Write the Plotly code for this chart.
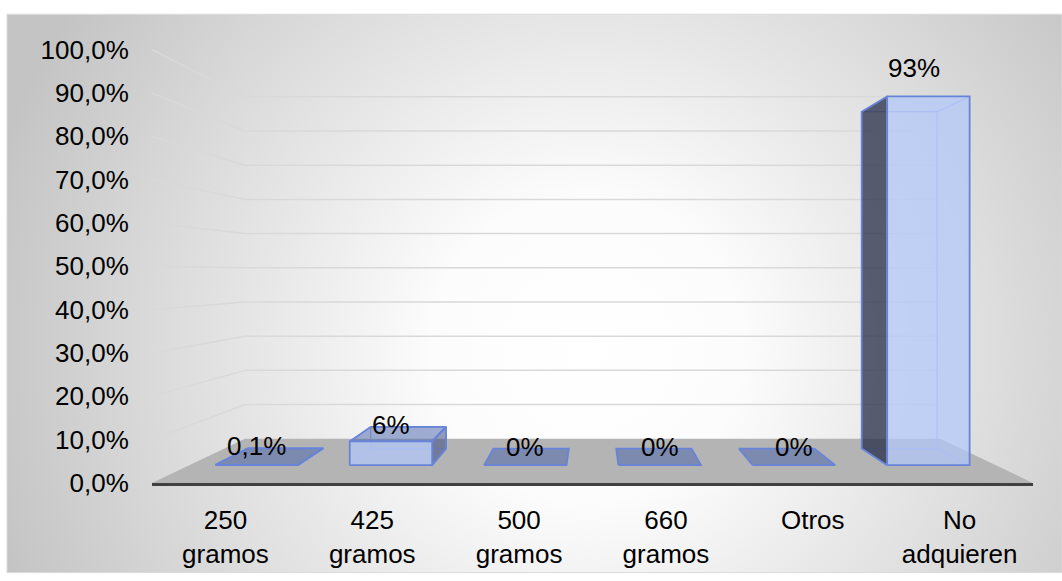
import base64
import plotly.graph_objects as go

# ---- data -------------------------------------------------------------
categories = ["250<br>gramos", "425<br>gramos", "500<br>gramos",
              "660<br>gramos", "Otros", "No<br>adquieren"]
shares = [0.1, 6, 0, 0, 0, 93]          # % of respondents
y_ticks = [0, 10, 20, 30, 40, 50, 60, 70, 80, 90, 100]
y_tick_text = [f"{t:.1f}%".replace(".", ",") for t in y_ticks]

# ---- pseudo-3D projection (data units) ---------------------------------
VPX, VPY = 2.5, 48.4          # vanishing point (category units, %)
WALL_DEPTH = 0.211            # depth of floor / side wall
BAR_FRONT, BAR_BACK = 0.085, 0.164
HALF_W = 0.307


def proj(c, v, f):
    """Move a front-plane point (c, v) a fraction f toward the vanishing point."""
    return c + f * (VPX - c), v + f * (VPY - v)


FONT = "Liberation Sans, Arial, sans-serif"
FS = 26

fig = go.Figure()


def polygon(pts, fill, line_color, width):
    xs = [p[0] for p in pts] + [pts[0][0]]
    ys = [p[1] for p in pts] + [pts[0][1]]
    fig.add_trace(go.Scatter(
        x=xs, y=ys, mode="lines", fill="toself", fillcolor=fill,
        line=dict(color=line_color, width=width),
        hoverinfo="skip", showlegend=False))


def segments(segs, color, width):
    xs, ys = [], []
    for a, b in segs:
        xs += [a[0], b[0], None]
        ys += [a[1], b[1], None]
    fig.add_trace(go.Scatter(
        x=xs, y=ys, mode="lines", line=dict(color=color, width=width),
        hoverinfo="skip", showlegend=False))


n = len(categories)
left, right = -0.5, n - 0.5

# floor
polygon([(left, 0), (right, 0), proj(right, 0, WALL_DEPTH), proj(left, 0, WALL_DEPTH)],
        "rgb(180,180,180)", "rgba(0,0,0,0)", 0)

# side-wall and back-wall gridlines
grid = []
for t in y_ticks[1:]:
    grid.append(((left, t), proj(left, t, WALL_DEPTH)))
    grid.append((proj(left, t, WALL_DEPTH), proj(right, t, WALL_DEPTH)))
segments(grid, "rgb(217,217,217)", 1.5)

EDGE = "rgb(104,132,216)"
HIDDEN = "rgba(150,172,240,0.9)"
FRONT_FILL = "rgba(178,198,250,0.72)"
TOP_FILL = "rgba(70,95,170,0.5)"
LEFT_FILL = "rgba(40,46,72,0.76)"
RIGHT_FILL = "rgba(60,75,130,0.55)"

labels = []
for i, v in enumerate(shares):
    x0, x1 = i - HALF_W, i + HALF_W
    fbl, fbr = proj(x0, 0, BAR_FRONT), proj(x1, 0, BAR_FRONT)
    ftl, ftr = proj(x0, v, BAR_FRONT), proj(x1, v, BAR_FRONT)
    bbl, bbr = proj(x0, 0, BAR_BACK), proj(x1, 0, BAR_BACK)
    btl, btr = proj(x0, v, BAR_BACK), proj(x1, v, BAR_BACK)

    # edges seen through the translucent faces
    if v > 0:
        segments([(bbl, bbr), (bbr, btr), (btr, btl), (btl, bbl),
                  (fbl, bbl), (fbr, bbr), (ftl, btl), (ftr, btr)], HIDDEN, 1.2)

    if v > 0 and x1 < VPX:
        polygon([fbr, bbr, btr, ftr], RIGHT_FILL, EDGE, 1.8)
    elif v > 0 and x0 > VPX:
        polygon([fbl, bbl, btl, ftl], LEFT_FILL, EDGE, 1.8)
    if v < VPY:
        polygon([ftl, ftr, btr, btl], TOP_FILL, EDGE, 1.8)
    if v > 0:
        polygon([fbl, fbr, ftr, ftl], FRONT_FILL, EDGE, 1.8)

    # value label sits on the visible top of the bar
    if v < VPY:
        lx, shift = proj(i, v, BAR_FRONT)[0], -15
    else:
        lx, shift = proj(i, v, (BAR_FRONT + BAR_BACK) / 2)[0], 11
    labels.append(dict(
        x=lx, y=max(ftl[1], btl[1]), xref="x", yref="y",
        text=f"{v:g}%".replace(".", ","), showarrow=False,
        xanchor="center", yanchor="bottom", yshift=shift,
        font=dict(family=FONT, size=FS, color="#000000")))

# ---- layout -------------------------------------------------------------
W, H = 1062, 581
ML, MR, MT, MB = 152, 29, 30, 91
plot_w, plot_h = W - ML - MR, H - MT - MB
y_top = 100 * plot_h / 440.0

# radial background of the chart area (pixel box 7..1062 x 14..581)
bx0, by0, bx1, by1 = 7, 14, 1062, 581
bw, bh = bx1 - bx0, by1 - by0
svg = (
    f"<svg xmlns='http://www.w3.org/2000/svg' width='{bw}' height='{bh}' "
    f"viewBox='0 0 {bw} {bh}' preserveAspectRatio='none'>"
    f"<defs><radialGradient id='g' gradientUnits='userSpaceOnUse' "
    f"cx='{bw * 0.55:.0f}' cy='{bh * 0.6:.0f}' r='620'>"
    "<stop offset='0' stop-color='#ffffff'/>"
    "<stop offset='0.25' stop-color='#fcfcfc'/>"
    "<stop offset='0.5' stop-color='#e9e9e9'/>"
    "<stop offset='0.85' stop-color='#cfcfcf'/>"
    "<stop offset='1' stop-color='#c4c4c4'/>"
    "</radialGradient></defs>"
    f"<rect width='{bw}' height='{bh}' fill='url(#g)'/></svg>"
)
src = "data:image/svg+xml;base64," + base64.b64encode(svg.encode()).decode()

px = lambda p: (p - ML) / plot_w
py = lambda p: (H - MB - p) / plot_h

fig.add_layout_image(dict(
    source=src, xref="paper", yref="paper",
    x=px(bx0), y=py(by0), sizex=bw / plot_w, sizey=bh / plot_h,
    xanchor="left", yanchor="top", sizing="stretch", layer="below"))

fig.add_shape(type="rect", xref="paper", yref="paper",
              x0=px(bx0), x1=px(bx1), y0=py(by1), y1=py(by0),
              line=dict(color="rgb(217,217,217)", width=1), layer="below")

fig.update_layout(
    width=W, height=H, autosize=False,
    margin=dict(l=ML, r=MR, t=MT, b=MB),
    paper_bgcolor="white", plot_bgcolor="rgba(0,0,0,0)",
    separators=",.",
    font=dict(family=FONT, size=FS, color="#000000"),
    annotations=labels,
    xaxis=dict(range=[left, right], tickvals=list(range(n)), ticktext=categories,
               showgrid=False, zeroline=False, showline=True,
               linecolor="rgb(64,64,64)", linewidth=3,
               ticks="outside", ticklen=12, tickcolor="rgba(0,0,0,0)",
               tickfont=dict(family=FONT, size=FS, color="#000000"),
               fixedrange=True),
    yaxis=dict(range=[0, y_top], tickvals=y_ticks, ticktext=y_tick_text,
               showgrid=False, zeroline=False, showline=False,
               ticks="outside", ticklen=17, tickcolor="rgba(0,0,0,0)",
               tickfont=dict(family=FONT, size=FS, color="#000000"),
               fixedrange=True),
)

fig.write_html("out.html")
